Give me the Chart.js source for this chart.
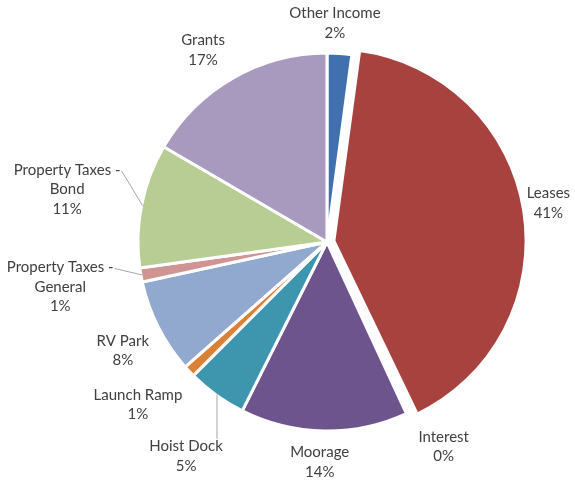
<!DOCTYPE html>
<html>
<head>
<meta charset="utf-8">
<script src="https://cdn.jsdelivr.net/npm/chart.js@4/dist/chart.umd.min.js"></script>
<style>
  html, body { margin: 0; padding: 0; background: #fff; }
  canvas { display: block; }
</style>
</head>
<body>
<canvas id="pie" width="575" height="482"></canvas>
<script>
// revenue share by source (percent), clockwise from 12 o'clock
const categories = [
    "Other Income", "Leases", "Interest", "Moorage", "Hoist Dock",
    "Launch Ramp", "RV Park", ["Property Taxes -", "General"],
    ["Property Taxes -", "Bond"], "Grants"
];
const shares = [2.1, 40.8, 0.2, 14.3, 5.1, 1.0, 8.1, 1.2, 10.6, 16.6];
const sliceColors = [
    "#4170AE", "#A8423F", "#89A54E", "#6E548D", "#3D96AE",
    "#DA8137", "#92A9CF", "#D09593", "#B7CD94", "#A89ABE"
];

// label placement: gap outside the rim (px), angle nudge (deg), leader line
const labelGap = [9, 11, 17, 11, 31, 14, 10, 24, 18, 11];
const labelNudge = [-1.7, -1, -4.5, 1, -2.5, 2.5, -1.2, 0.5, 0.3, -3];
const labelLeader = [false, false, false, false, true, false, false, true, true, false];

const FONT = "15px Lato";
const LINE_H = 19.5;

const outsideLabels = {
    id: "outsideLabels",
    afterDatasetsDraw(chart) {
        const ctx = chart.ctx;
        const meta = chart.getDatasetMeta(0);
        const data = chart.data.datasets[0].data;
        const total = data.reduce((a, b) => a + b, 0);

        ctx.save();
        ctx.font = FONT;
        ctx.textAlign = "center";
        ctx.textBaseline = "middle";

        meta.data.forEach((arc, i) => {
            const p = arc.getProps(["x", "y", "startAngle", "endAngle", "outerRadius"], true);
            const mid = (p.startAngle + p.endAngle) / 2;
            const ang = mid + labelNudge[i] * Math.PI / 180;

            let lines = chart.data.labels[i];
            lines = Array.isArray(lines) ? lines.slice() : [lines];
            lines.push(Math.round(data[i] / total * 100) + "%");

            const w = Math.max(...lines.map(l => ctx.measureText(l).width));
            const h = lines.length * LINE_H;
            const ux = Math.cos(ang), uy = Math.sin(ang);
            const ext = Math.abs(ux) * w / 2 + Math.abs(uy) * h / 2;
            const d = p.outerRadius + labelGap[i] + ext;
            const cx = p.x + ux * d;
            const cy = p.y + uy * d;

            if (labelLeader[i]) {
                const ex = p.x + Math.cos(mid) * (p.outerRadius - 1);
                const ey = p.y + Math.sin(mid) * (p.outerRadius - 1);
                let tx, ty;
                if (Math.abs(uy) > 0.7) {
                    tx = Math.min(Math.max(ex, cx - w / 2), cx + w / 2);
                    ty = uy > 0 ? cy - h / 2 + 2 : cy + h / 2 - 2;
                } else {
                    tx = ux < 0 ? cx + w / 2 + 1 : cx - w / 2 - 1;
                    ty = cy - h / 2 + LINE_H / 2 + 1;
                }
                ctx.strokeStyle = "#a6a6a6";
                ctx.lineWidth = 1;
                ctx.beginPath();
                ctx.moveTo(ex, ey);
                ctx.lineTo(tx, ty);
                ctx.stroke();
            }

            ctx.fillStyle = "#404040";
            lines.forEach((l, k) => {
                ctx.fillText(l, cx, cy - h / 2 + LINE_H * (k + 0.5));
            });
        });
        ctx.restore();
    }
};

new Chart(document.getElementById("pie").getContext("2d"), {
    type: "pie",
    data: {
        labels: categories,
        datasets: [{
            data: shares,
            backgroundColor: sliceColors,
            borderColor: "#ffffff",
            borderWidth: 3,
            offset: shares.map((v, i) => i === 1 ? 28 : 0),
            radius: 189
        }]
    },
    options: {
        responsive: false,
        animation: false,
        radius: 189,
        layout: { padding: { left: 90, right: 11, top: 20, bottom: 18 } },
        plugins: {
            legend: { display: false },
            tooltip: { enabled: false }
        }
    },
    plugins: [outsideLabels]
});
</script>
</body>
</html>
